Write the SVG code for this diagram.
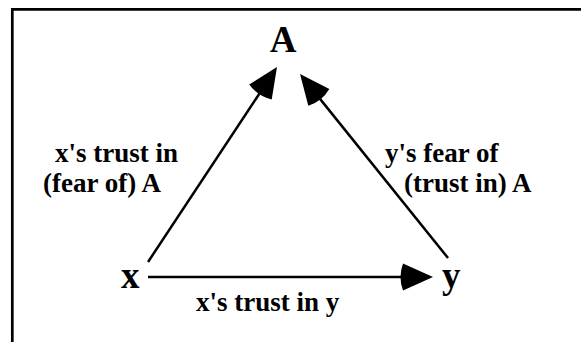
<svg xmlns="http://www.w3.org/2000/svg" width="581" height="342" viewBox="0 0 581 342">
<style>
text{font-family:'Liberation Serif','Times New Roman',serif;font-weight:700;fill:#000}
.lbl{font-size:27px}
.node{font-size:37px}
.edge{stroke:#000;stroke-width:2.5;fill:none;marker-end:url(#ah)}
</style>
<defs>
<marker id="ah" markerUnits="userSpaceOnUse" markerWidth="40" markerHeight="40" viewBox="-6 -15 40 30" refX="1" refY="0" orient="auto">
<path d="M0,-13.5 L30,0 L0,13.5 Q-5,0 0,-13.5 Z" fill="#000"/>
</marker>
</defs>
<rect width="581" height="342" fill="#fff"/>
<path d="M12.3,342 V9.3 H581" stroke="#000" stroke-width="2.7" fill="none"/>
<g id="connectors">
<line class="edge" x1="148" y1="262" x2="261" y2="91.2"/>
<line class="edge" x1="448" y1="258" x2="318.2" y2="96.6"/>
<line class="edge" x1="148" y1="277" x2="404" y2="277"/>
</g>
<g id="node-A"><text class="node" x="283" y="52" text-anchor="middle">A</text></g>
<g id="node-x"><text class="node" x="121" y="288">x</text></g>
<g id="node-y"><text class="node" x="442" y="288">y</text></g>
<g id="label-xA"><text class="lbl" x="55" y="162">x's trust in</text><text class="lbl" x="43" y="192">(fear of) A</text></g>
<g id="label-yA"><text class="lbl" x="385" y="162">y's fear of</text><text class="lbl" x="404" y="192">(trust in) A</text></g>
<g id="label-xy"><text class="lbl" x="196" y="311">x's trust in y</text></g>
</svg>
